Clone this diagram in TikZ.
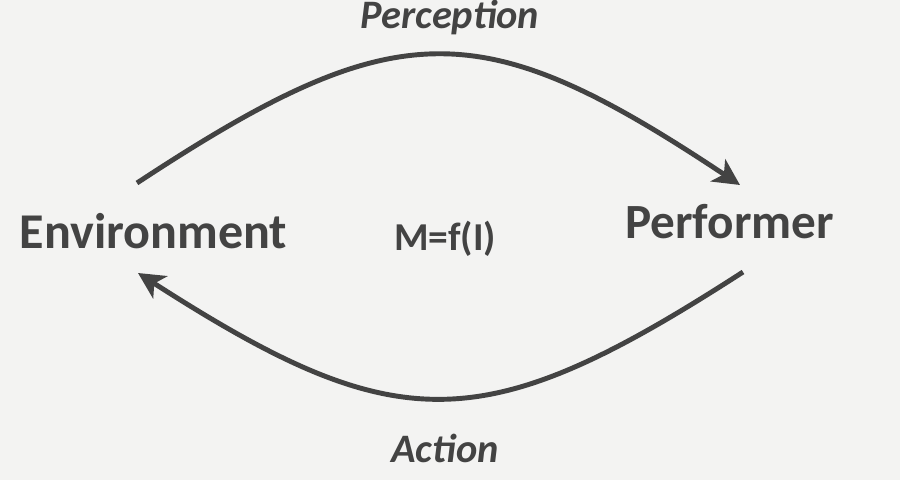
\documentclass[tikz,border=0pt]{standalone}
\usepackage{fontspec}
\setmainfont{Carlito}
\usepackage{tikz}
\usetikzlibrary{arrows.meta,positioning,calc}
\usepackage{xcolor}
\definecolor{pmInk}{HTML}{434343}
\definecolor{pmPaper}{HTML}{F3F3F2}
\tikzset{
    actor/.style={text=pmInk,font=\fontsize{28.5}{32}\selectfont\bfseries,anchor=base,inner sep=0pt},
    flowlabel/.style={text=pmInk,font=\fontsize{23}{27}\selectfont\bfseries\itshape,anchor=base,inner sep=0pt},
    loopflow/.style={-{Stealth[length=15pt,width=15pt,inset=4pt]},line width=2.8pt,pmInk}
}

\begin{document}
\begin{tikzpicture}

% paper
\fill[pmPaper] (0,0) rectangle (18,9.6);
\useasboundingbox (0,0) rectangle (18,9.6);

% the two parties and the model
\node[actor] at (3.07,4.64) (env) {Environment};
\node[actor,font=\fontsize{28}{32}\selectfont\bfseries] at (14.59,4.84) (perf) {Performer};
\node[actor,font=\fontsize{22.5}{26}\selectfont\bfseries] at (8.9,4.6) (model) {M=f(I)};

% flow labels
\node[flowlabel] at (9.0,9.04) (perc) {Perception};
\node[flowlabel] at (8.9,0.36) (act) {Action};

% loop
\draw[loopflow] ($(env.base)+(-0.33,1.30)$) .. controls (7.94,9.36) and (9.6,9.36) .. ($(perf.base)+(0.21,1.06)$);
\draw[loopflow] ($(perf.base)+(0.27,-0.68)$) .. controls (9.66,0.8) and (7.96,0.8) .. ($(env.base)+(-0.31,-0.50)$);

\end{tikzpicture}
\end{document}
